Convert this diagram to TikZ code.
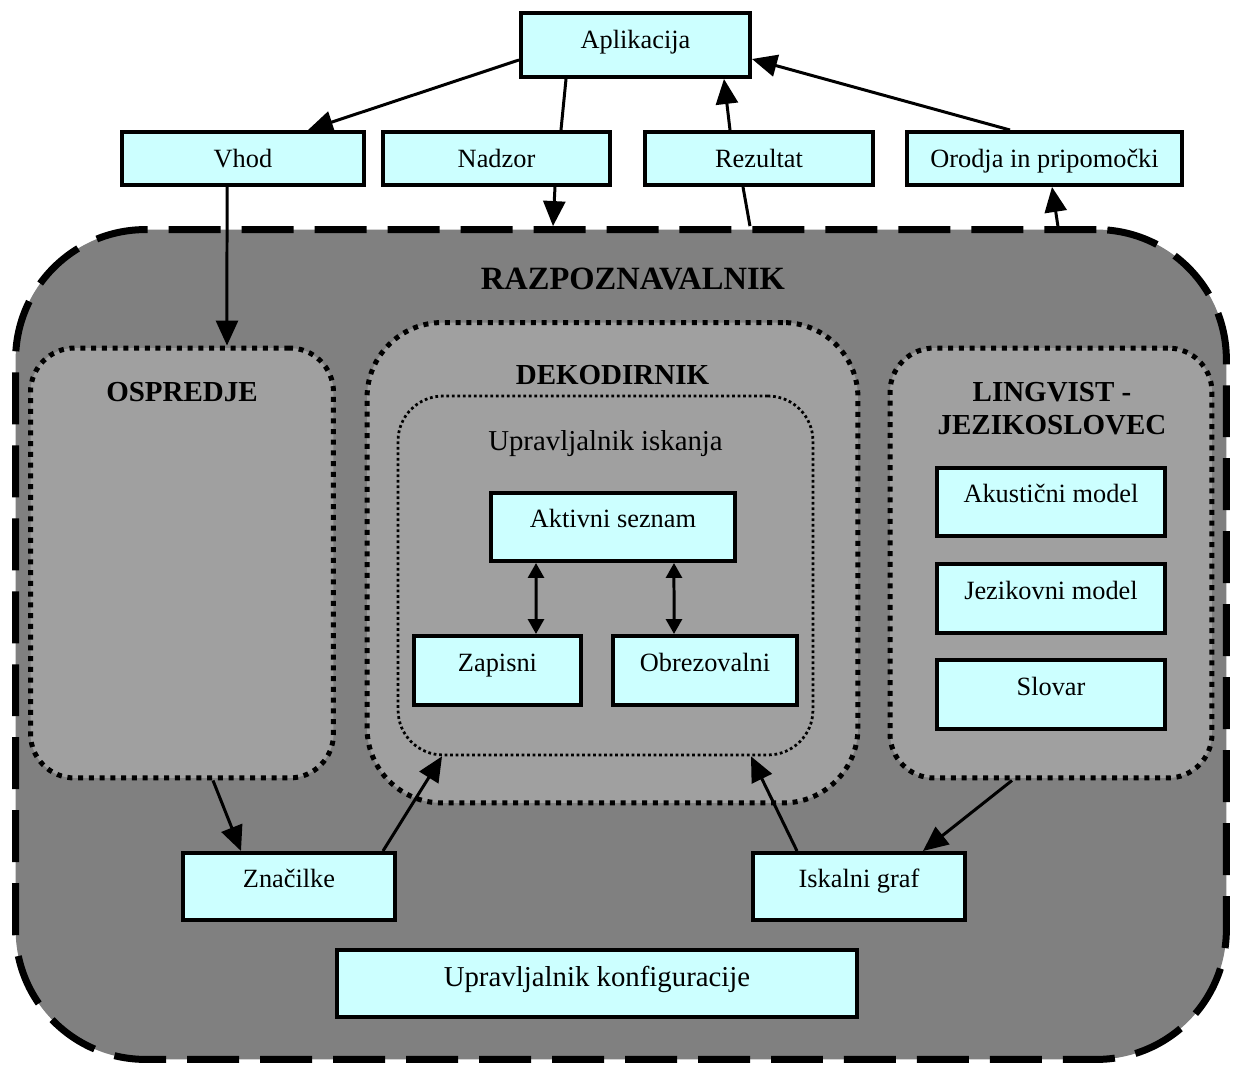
\documentclass[tikz,border=0pt]{standalone}
\usepackage{fontspec}
\setmainfont{Liberation Serif}
\usetikzlibrary{arrows.meta}
\definecolor{boxfill}{HTML}{CCFFFF}
\definecolor{outerfill}{HTML}{808080}
\definecolor{innerfill}{HTML}{A0A0A0}
\begin{document}
\begin{tikzpicture}[x=0.02cm,y=-0.02cm,
  box/.style={draw,fill=boxfill,line width=0.07cm,inner sep=0pt,font=\fontsize{15pt}{18pt}\selectfont,text height=10.5pt},
  shortbox/.style={box,text depth=0.6pt},
  tallbox/.style={box,text depth=9.4pt},
  container/.style={draw,fill=innerfill,inner sep=0pt,line width=0.1cm,dash pattern=on 0.1cm off 0.115cm},
  title/.style={font=\fontsize{16.5pt}{20pt}\selectfont\bfseries,anchor=base,inner sep=0pt},
  conn/.style={line width=0.06cm,-{Triangle[length=0.5cm,width=0.44cm]}},
  plain/.style={line width=0.06cm},
  dbl/.style={line width=0.06cm,{Triangle[length=0.3cm,width=0.32cm]}-{Triangle[length=0.3cm,width=0.32cm]}}
]
\useasboundingbox (0,0) rectangle (1235,1067);

% outer recognizer
\node[draw,fill=outerfill,inner sep=0pt,line width=0.14cm,dash pattern=on 1.04cm off 0.42cm,
      rounded corners=2.6cm,minimum width=24.22cm,minimum height=16.6cm] (outer) at (621,644.5) {};
\node[title,font=\fontsize{18.5pt}{22pt}\selectfont\bfseries] (razp) at (633,290) {RAZPOZNAVALNIK};

% containers
\node[container,rounded corners=0.88cm,minimum width=6.06cm,minimum height=8.6cm] (osp) at (182,563) {};
\node[container,rounded corners=1.5cm,minimum width=9.82cm,minimum height=9.61cm] (dekod) at (612.5,562.75) {};
\node[container,rounded corners=0.9cm,minimum width=8.3cm,minimum height=7.18cm,
      line width=0.055cm,dash pattern=on 0.055cm off 0.055cm] (upr) at (605.5,575.5) {};
\node[container,rounded corners=0.88cm,minimum width=6.44cm,minimum height=8.6cm] (lingv) at (1051,563) {};

\node[title] (ospT) at (182,402) {OSPREDJE};
\node[title] (dekodT) at (612.5,385) {DEKODIRNIK};
\node[anchor=base,inner sep=0pt,font=\fontsize{16.4pt}{20pt}\selectfont] (uprT) at (605.5,451) {Upravljalnik iskanja};
\node[title] (lingvT1) at (1052,402) {LINGVIST -};
\node[title] (lingvT2) at (1052,435) {JEZIKOSLOVEC};

% top boxes
\node[box,text depth=6.3pt,minimum width=4.59cm,minimum height=1.29cm] (aplik) at (635.5,45) {Aplikacija};
\node[shortbox,minimum width=4.85cm,minimum height=1.07cm] (vhod) at (243,158.5) {Vhod};
\node[shortbox,minimum width=4.55cm,minimum height=1.07cm] (nadzor) at (496.5,158.5) {Nadzor};
\node[shortbox,minimum width=4.57cm,minimum height=1.07cm] (rezultat) at (759,158.5) {Rezultat};
\node[shortbox,minimum width=5.51cm,minimum height=1.07cm] (orodja) at (1044.5,158.5) {Orodja in pripomočki};

% decoder boxes
\node[tallbox,minimum width=4.89cm,minimum height=1.37cm] (aktivni) at (613,527) {Aktivni seznam};
\node[tallbox,minimum width=3.35cm,minimum height=1.39cm] (zapisni) at (497.5,670.5) {Zapisni};
\node[tallbox,minimum width=3.69cm,minimum height=1.39cm] (obrez) at (705,670.5) {Obrezovalni};

% linguist boxes
\node[tallbox,minimum width=4.57cm,minimum height=1.37cm] (akust) at (1051,502) {Akustični model};
\node[tallbox,minimum width=4.57cm,minimum height=1.39cm] (jezik) at (1051,598.5) {Jezikovni model};
\node[tallbox,minimum width=4.57cm,minimum height=1.39cm] (slovar) at (1051,694.5) {Slovar};

% bottom boxes
\node[tallbox,minimum width=4.25cm,minimum height=1.35cm] (znac) at (289,886.5) {Značilke};
\node[tallbox,minimum width=4.25cm,minimum height=1.35cm] (iskalni) at (859,886.5) {Iskalni graf};
\node[box,font=\fontsize{16.4pt}{20pt}\selectfont,text height=11.5pt,text depth=8.05pt,
      minimum width=10.41cm,minimum height=1.35cm] (konfig) at (597,983.5) {Upravljalnik konfiguracije};

% connectors
\draw[conn] ([yshift=-0.3cm]aplik.west) -- ([xshift=1.3cm]vhod.north);
\draw[plain] ([xshift=-1.39cm]aplik.south) -- ([xshift=1.29cm]nadzor.north);
\draw[conn] ([xshift=1.17cm]nadzor.south) -- ([xshift=-1.36cm]outer.north);
\draw[plain] ([xshift=2.58cm]outer.north) -- ([xshift=-0.32cm]rezultat.south);
\draw[conn] ([xshift=-0.58cm]rezultat.north) -- ([xshift=1.77cm]aplik.south);
\draw[conn] ([xshift=-0.69cm]orodja.north) -- ([yshift=-0.28cm]aplik.east);
\draw[conn] ([xshift=8.74cm]outer.north) -- ([xshift=0.15cm]orodja.south);
\draw[conn] ([xshift=-0.32cm]vhod.south) -- ([xshift=0.9cm]osp.north);
\draw[conn] ([xshift=0.62cm]osp.south) -- ([xshift=-0.96cm]znac.north);
\draw[conn] ([xshift=1.88cm]znac.north) -- ([xshift=-3.27cm]upr.south);
\draw[conn] ([xshift=-1.24cm]iskalni.north) -- ([xshift=2.91cm]upr.south);
\draw[conn] ([xshift=-0.78cm]lingv.south) -- ([xshift=1.28cm]iskalni.north);
\draw[dbl] ([xshift=-1.54cm]aktivni.south) -- ([xshift=0.77cm]zapisni.north);
\draw[dbl] ([xshift=1.22cm]aktivni.south) -- ([xshift=-0.62cm]obrez.north);
\end{tikzpicture}
\end{document}
